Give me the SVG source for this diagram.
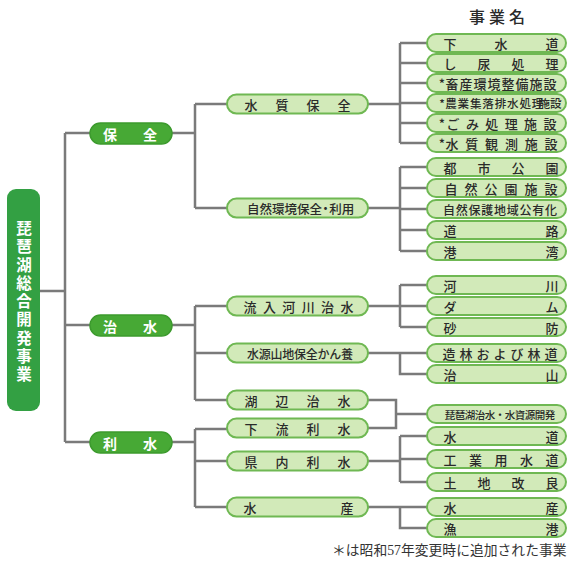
<svg xmlns="http://www.w3.org/2000/svg" width="573" height="561" viewBox="0 0 573 561">
<style>
.c{stroke:#7a7a7a;stroke-width:2.5;fill:none}
.n2,.n3{fill:#d2eab9;stroke:#6fb853;stroke-width:2}
.n1{fill:#47a935;stroke:#3c9a2d;stroke-width:1.5}
.n0{fill:#33a043}
text{font-family:"Noto Sans CJK JP","Noto Sans",sans-serif;text-anchor:middle;dominant-baseline:central}
.t{font-size:13px;fill:#2a2a2a;font-weight:500}
.w{font-size:14px;fill:#fff;font-weight:bold}
.s{font-size:12px}
.xs{font-size:10.5px}
</style>
<rect width="573" height="561" fill="#fff"/>
<g id="connectors" class="c">
<path d="M40 291H65M65 133V442M65 133H90M65 325H90M65 442H90"/>
<path d="M172 133H195M195 104V208M195 104H227M195 208H227"/>
<path d="M172 325H195M195 306V400M195 306H227M195 353H227M195 400H227"/>
<path d="M172 442H195M195 429V507M195 429H227M195 461H227M195 507H227"/>
<path d="M368 104H400M400 43V143M400 43H427M400 63H427M400 83H427M400 103H427M400 123H427M400 143H427"/>
<path d="M368 208H400M400 167V251M400 167H427M400 188H427M400 209H427M400 230H427M400 251H427"/>
<path d="M368 306H400M400 285V327M400 285H427M400 306H427M400 327H427"/>
<path d="M368 353H427M400 353V374H427"/>
<path d="M368 400H396V428H368M396 414H427"/>
<path d="M368 461H400M400 436V482M400 436H427M400 459H427M400 482H427"/>
<path d="M368 507H427M400 507V528H427"/>
</g>
<text class="t" x="477 497 517" y="16" style="font-size:16px">事業名</text>
<g id="root"><rect class="n0" x="7" y="189" width="33" height="222" rx="9"/>
<text class="w" style="font-size:15.5px" x="24 24 24 24 24 24 24 24 24" y="227 245.25 263.5 281.75 300 318.25 336.5 354.75 373">琵琶湖総合開発事業</text></g>
<g id="hozen"><rect class="n1" x="90" y="123" width="82" height="21" rx="10.5"/><text class="w" x="110 150" y="133.5">保全</text></g>
<g id="chisui"><rect class="n1" x="90" y="315" width="82" height="21" rx="10.5"/><text class="w" x="110 150" y="325.5">治水</text></g>
<g id="risui"><rect class="n1" x="90" y="432" width="82" height="21" rx="10.5"/><text class="w" x="110 150" y="442.5">利水</text></g>

<g id="suishitsu-hozen"><rect class="n2" x="227" y="94.5" width="141" height="19" rx="9.5"/><text class="t" x="251 282 313 344" y="104">水質保全</text></g>
<g id="shizen-kankyo"><rect class="n2" x="227" y="198.5" width="141" height="19" rx="9.5"/><text class="t" style="font-size:12.5px" x="253.25 265.75 278.25 290.75 303.25 315.75 325.5 335.5 348" y="208">自然環境保全・利用</text></g>
<g id="ryunyu"><rect class="n2" x="227" y="296.5" width="141" height="19" rx="9.5"/><text class="t" x="250 269.4 288.8 308.2 327.6 347" y="306">流入河川治水</text></g>
<g id="suigen"><rect class="n2" x="227" y="343.5" width="141" height="19" rx="9.5"/><text class="t s" x="253 264.75 276.5 288.25 300 311.75 323.5 335.25 347" y="353">水源山地保全かん養</text></g>
<g id="kohen"><rect class="n2" x="227" y="390.5" width="141" height="19" rx="9.5"/><text class="t" x="251 282 313 344" y="400">湖辺治水</text></g>
<g id="karyu"><rect class="n2" x="227" y="418.5" width="141" height="19" rx="9.5"/><text class="t" x="251 282 313 344" y="428">下流利水</text></g>
<g id="kennai"><rect class="n2" x="227" y="451.5" width="141" height="19" rx="9.5"/><text class="t" x="251 282 313 344" y="461">県内利水</text></g>
<g id="suisan2"><rect class="n2" x="227" y="497.5" width="141" height="19" rx="9.5"/><text class="t" x="250 347" y="507">水産</text></g>

<g id="gesuido"><rect class="n3" x="427" y="34" width="139" height="18" rx="9"/><text class="t" x="450 501 552" y="43">下水道</text></g>
<g id="shinyo"><rect class="n3" x="427" y="54" width="139" height="18" rx="9"/><text class="t" x="450 484 518 552" y="63">し尿処理</text></g>
<g id="chikusan"><rect class="n3" x="427" y="74" width="139" height="18" rx="9"/><text class="t" x="442 452 466 480 494 508 522 536 550" y="83">*畜産環境整備施設</text></g>
<g id="nogyo"><rect class="n3" x="427" y="94" width="139" height="18" rx="9"/><text class="t s" style="font-size:11.6px" x="442 451 463.4 475.8 488.1 500.5 512.9 525.3 537.6 550" y="103">*農業集落排水処理施設</text></g>
<g id="gomi"><rect class="n3" x="427" y="114" width="139" height="18" rx="9"/><text class="t" x="442 453 472.4 491.8 511.2 530.6 550" y="123">*ごみ処理施設</text></g>
<g id="kansoku"><rect class="n3" x="427" y="134" width="139" height="18" rx="9"/><text class="t" x="442 452 471.8 491.6 511.4 531.2 551" y="143">*水質観測施設</text></g>
<g id="toshikoen"><rect class="n3" x="427" y="158" width="139" height="18" rx="9"/><text class="t" x="450 484 518 552" y="167">都市公園</text></g>
<g id="shizenkoen"><rect class="n3" x="427" y="179" width="139" height="18" rx="9"/><text class="t" x="451 471 491 511 531 551" y="188">自然公園施設</text></g>
<g id="shizenhogo"><rect class="n3" x="427" y="200" width="139" height="18" rx="9"/><text class="t s" x="449 461.75 474.5 487.25 500 512.75 525.5 538.25 551" y="209">自然保護地域公有化</text></g>
<g id="doro"><rect class="n3" x="427" y="221" width="139" height="18" rx="9"/><text class="t" x="450 552" y="230">道路</text></g>
<g id="kowan"><rect class="n3" x="427" y="242" width="139" height="18" rx="9"/><text class="t" x="450 552" y="251">港湾</text></g>
<g id="kasen"><rect class="n3" x="427" y="276" width="139" height="18" rx="9"/><text class="t" x="450 552" y="285">河川</text></g>
<g id="damu"><rect class="n3" x="427" y="297" width="139" height="18" rx="9"/><text class="t" x="450 552" y="306">ダム</text></g>
<g id="sabo"><rect class="n3" x="427" y="318" width="139" height="18" rx="9"/><text class="t" x="450 552" y="327">砂防</text></g>
<g id="zorin"><rect class="n3" x="427" y="344" width="139" height="18" rx="9"/><text class="t" x="449 466 483 500 517 534 551" y="353">造林および林道</text></g>
<g id="chisan"><rect class="n3" x="427" y="365" width="139" height="18" rx="9"/><text class="t" x="450 552" y="374">治山</text></g>
<g id="biwako"><rect class="n3" x="427" y="405" width="139" height="18" rx="9"/><text class="t xs" x="450 460 470 480 490 500 510 520 530 540 550" y="414">琵琶湖治水・水資源開発</text></g>
<g id="suido"><rect class="n3" x="427" y="427" width="139" height="18" rx="9"/><text class="t" x="450 552" y="436">水道</text></g>
<g id="kogyo"><rect class="n3" x="427" y="450" width="139" height="18" rx="9"/><text class="t" x="450 475.5 501 526.5 552" y="459">工業用水道</text></g>
<g id="tochi"><rect class="n3" x="427" y="473" width="139" height="18" rx="9"/><text class="t" x="450 484 518 552" y="482">土地改良</text></g>
<g id="suisan3"><rect class="n3" x="427" y="498" width="139" height="18" rx="9"/><text class="t" x="450 552" y="507">水産</text></g>
<g id="gyoko"><rect class="n3" x="427" y="519" width="139" height="18" rx="9"/><text class="t" x="450 552" y="528">漁港</text></g>

<text x="332" y="550" style="text-anchor:start;font-family:'Liberation Serif','Noto Sans CJK JP',serif;font-size:13.8px;fill:#333">＊は昭和57年変更時に追加された事業</text>
</svg>
